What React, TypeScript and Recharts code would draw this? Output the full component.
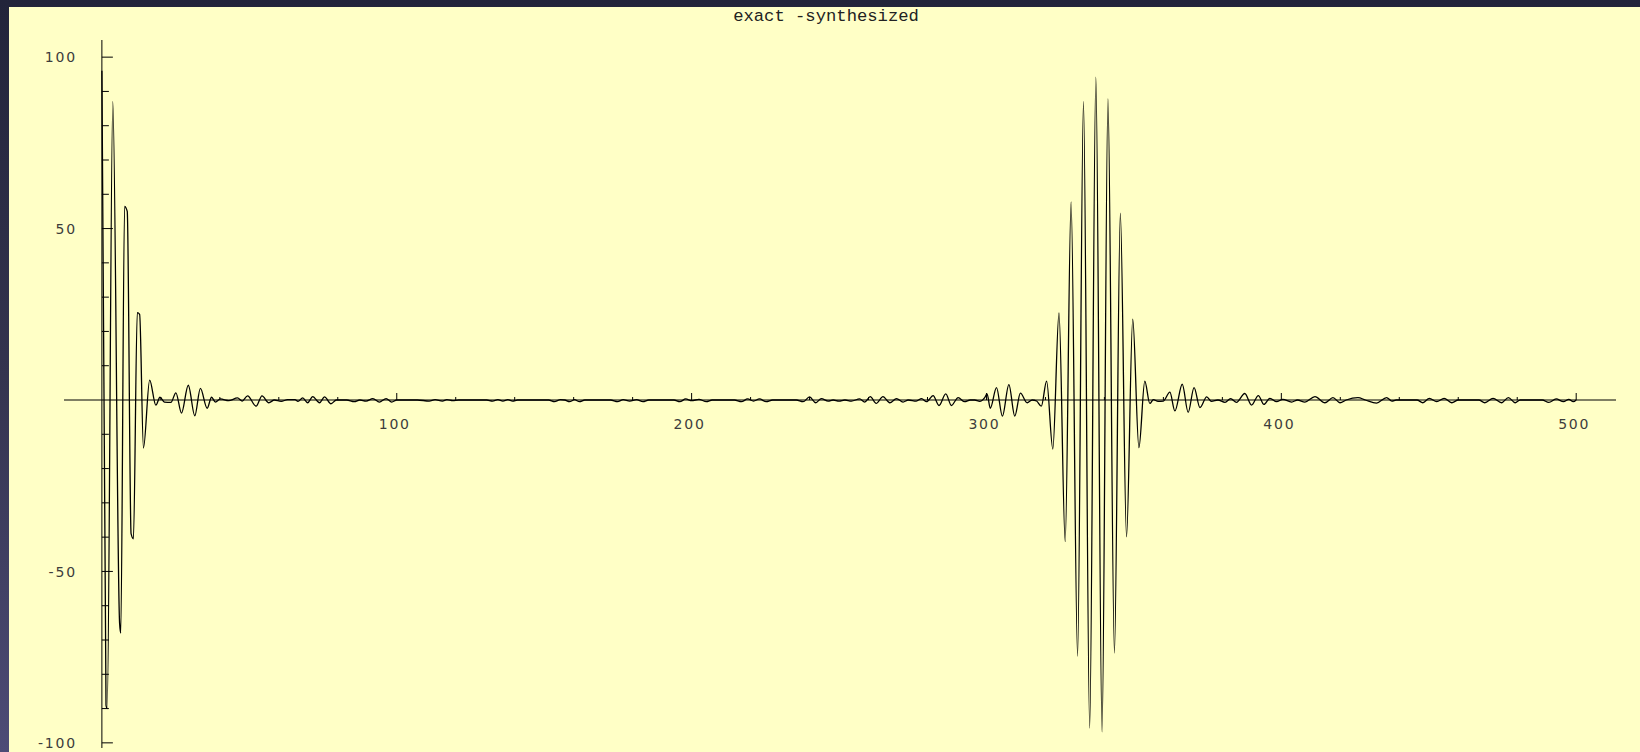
import { LineChart, Line, XAxis, YAxis, ReferenceLine, ReferenceDot } from 'recharts'

type Pt = [number, number]

// [sample, amplitude]
const leadingPulse: Pt[] = [
  [0, 96], [1.4, -89], [1.8, -90], [3.7, 87], [6.0, -65], [6.4, -68], [7.7, 56.5], [8.6, 55],
  [9.9, -39], [10.7, -40.5], [12.0, 25.5], [12.8, 25], [14.1, -14], [16.2, 5.8], [18.3, -1.5],
  [19.7, 0.8], [21.2, -0.6], [23.4, -0.7], [25.1, 2.1], [27.0, -3.8], [29.3, 4.3], [31.5, -4.6],
  [33.4, 3.4], [35.7, -2.4], [37.2, 0.8], [38.5, -0.6], [40.2, 0.3], [43, -0.2], [46, 0.6],
  [47.6, -0.3], [49.4, 1.2], [52.3, -1.8], [54.3, 1.2], [56.6, -0.8], [58.5, 0], [60.8, -0.4],
  [63, 0.1], [65.5, 0.1], [66.5, -0.4], [68.1, 0.6], [69.8, -0.8], [71.5, 1.0], [73.8, -0.8],
  [75.5, 0.9], [77.7, -1.1], [79.5, 0], [83, 0], [85.6, -0.5], [87.5, 0], [89.6, -0.3],
  [91.9, 0.4], [94.1, -0.6], [96.4, 0.4], [98.3, -0.6], [100, 0],
]

const quietStretch: Pt[] = [
  [103, 0], [107, 0], [111, -0.3], [113, 0.1], [115.5, -0.3], [117, 0.1], [119, -0.2], [121, 0],
  [126, 0], [130.5, 0], [132.5, -0.3], [134.3, 0.1], [136, -0.3], [137.7, 0.1], [139.3, -0.3],
  [141, 0], [148, 0], [151.5, 0], [153.5, -0.5], [155.5, 0.1], [157, 0], [158.6, -0.5],
  [160.3, 0.1], [162, -0.5], [163.8, 0], [172.5, 0], [174.9, -0.5], [176.8, 0.1], [179, -0.3],
  [181.3, 0.1], [183.5, -0.5], [185.5, 0], [194, 0], [196, -0.5], [198, 0.3], [200, -0.2],
  [202.5, 0.2], [205, -0.5], [207, 0], [214.5, 0], [216.9, -0.5], [219, 0.3], [221, -0.3],
  [223, 0.3], [225.3, -0.5], [227.5, 0], [235.5, 0], [237.8, -0.5], [240, 0.9], [242.1, -0.8],
  [244, 0.4], [246.3, -0.3], [248, 0], [250, -0.3], [252, 0], [254.2, -0.3], [257, 0.3],
  [258.7, -0.6], [260.6, 1.0], [262.6, -1.0], [264.9, 1.0], [267.2, -0.8], [269.5, 0.4],
  [271.7, -0.6], [273.5, 0], [276.2, -0.3], [278, 0.4], [279.7, -0.5], [281.9, 1.3],
  [283.9, -1.6], [286.2, 1.8], [288.1, -1.6], [290.4, 0.7], [292.6, -0.5], [294.5, 0], [296, 0],
  [297.7, -0.4], [299.4, 0.7], [300.2, 1.8], [301.3, -2.4],
]

const mainPulse: Pt[] = [
  [303.4, 3.6], [305.4, -4.7], [307.6, 4.5], [309.6, -4.7], [311.5, 2.0], [313.8, -0.8],
  [315.5, 0], [317, -0.3], [318.6, -1.8], [320.4, 5.5], [322.5, -14.3], [324.6, 25.4],
  [326.7, -41.3], [328.7, 57.8], [330.9, -74.7], [332.9, 87], [335, -95.7], [337.1, 94.2],
  [339.2, -96.8], [341.2, 87.8], [343.4, -73.8], [345.4, 54.5], [347.5, -39.9], [349.6, 23.6],
  [351.7, -13.9], [353.7, 5.5],
]

const trailingTail: Pt[] = [
  [355.4, -1.0], [356.6, 0.1], [358.2, -0.4], [360, -0.3], [362.2, 2.3], [363.9, -3.2],
  [366.4, 4.6], [368.4, -3.6], [370.4, 3.6], [372.4, -2.2], [374.7, 0.9], [376.3, -0.4],
  [378.5, 0], [380.9, -0.7], [382.8, 0.4], [384.8, -0.7], [387.6, 1.9], [389.9, -1.5],
  [392.2, 1.3], [394.1, -1.3], [396.1, 0.5], [398.4, -0.5], [400.5, 0.2], [403.5, -0.6],
  [405.5, 0], [408, -0.6], [411.4, 1.0], [414.8, -0.8], [417.5, 0.7], [419.9, -0.8], [422, 0],
  [426, 0.7], [428.5, 0], [432.3, -0.9], [435.7, 0.7], [437.5, -0.3], [439, 0], [446, 0],
  [448, -0.8], [450.2, 0.5], [452.7, -0.5], [455.2, 0.5], [457.8, -0.8], [460, 0], [467, 0],
  [469, -0.8], [471.8, 0.5], [474.7, -0.8], [477, 0.7], [479.3, -0.8], [481, 0], [488.5, 0],
  [490.7, -0.7], [493.2, 0.3], [495.7, -0.5], [497.5, 0.2], [499, -0.5], [500, 0],
]

const xMajorTicks = [100, 200, 300, 400, 500]
const xMinorTicks = [20, 40, 60, 80, 120, 140, 160, 180, 220, 240, 260, 280, 320, 340, 360, 380, 420, 440, 460, 480]
const yMajorTicks = [100, 50, -50, -100]
const yMinorTicks = [90, 80, 70, 60, 40, 30, 20, 10, -10, -20, -30, -40, -60, -70, -80, -90]

const chartTitle = 'exact -synthesized'

const signal = [...leadingPulse, ...quietStretch, ...mainPulse, ...trailingTail].map(([t, v]) => ({ t, v }))

const labelStyle = {
  fontFamily: '"DejaVu Sans", sans-serif',
  fontSize: 14,
  letterSpacing: 1.8,
  fill: '#3c3c3c',
}

function xMark(value: number, major: boolean) {
  return (p: any) => (
    <g>
      <line x1={p.cx} x2={p.cx} y1={p.cy} y2={p.cy - (major ? 7 : 3)} stroke="#000" strokeWidth={1} />
      {major && (
        <text x={p.cx - 2} y={p.cy + 29} textAnchor="middle" {...labelStyle}>
          {value}
        </text>
      )}
    </g>
  )
}

function yMark(value: number, major: boolean) {
  return (p: any) => (
    <g>
      <line x1={p.cx} x2={p.cx + (major ? 11 : 7)} y1={p.cy} y2={p.cy} stroke="#000" strokeWidth={1} />
      {major && (
        <text x={p.cx - 25} y={p.cy + 5.2} textAnchor="end" {...labelStyle}>
          {value < 0 ? `-${Math.abs(value)}` : value}
        </text>
      )}
    </g>
  )
}

export default function App() {
  return (
    <div
      style={{
        position: 'fixed',
        left: 0,
        top: 0,
        width: 1640,
        height: 752,
        overflow: 'hidden',
        background: 'linear-gradient(to bottom, #22243a 0%, #34344f 50%, #4d4b76 100%)',
      }}
    >
      <div style={{ position: 'absolute', left: 9, top: 7, right: 0, bottom: 0, background: '#ffffc6' }} />

      <svg width={1640} height={40} style={{ position: 'absolute', left: 0, top: 0 }}>
        <text
          x={826}
          y={20.7}
          textAnchor="middle"
          fontFamily='"Liberation Mono", monospace'
          fontSize={17.2}
          fill="#222"
        >
          {chartTitle}
        </text>
      </svg>

      <div style={{ position: 'absolute', left: 0, top: 0 }}>
        <LineChart width={1640} height={752} data={signal} margin={{ top: 40, right: 24, bottom: 4, left: 64 }}>
          <XAxis dataKey="t" type="number" domain={[-12.85, 513.5]} hide allowDataOverflow />
          <YAxis type="number" domain={[-101.5, 105]} hide allowDataOverflow />

          <ReferenceLine y={0} stroke="#000" strokeWidth={1} />
          <ReferenceLine x={0} stroke="#000" strokeWidth={1} />

          {xMinorTicks.map((t) => (
            <ReferenceDot key={`xm-${t}`} x={t} y={0} r={0} shape={xMark(t, false)} />
          ))}
          {xMajorTicks.map((t) => (
            <ReferenceDot key={`xM-${t}`} x={t} y={0} r={0} shape={xMark(t, true)} />
          ))}
          {yMinorTicks.map((v) => (
            <ReferenceDot key={`ym-${v}`} x={0} y={v} r={0} shape={yMark(v, false)} />
          ))}
          {yMajorTicks.map((v) => (
            <ReferenceDot key={`yM-${v}`} x={0} y={v} r={0} shape={yMark(v, true)} />
          ))}

          <Line
            type="monotoneX"
            dataKey="v"
            stroke="#000"
            strokeWidth={1.3}
            dot={false}
            activeDot={false}
            isAnimationActive={false}
          />
        </LineChart>
      </div>
    </div>
  )
}
